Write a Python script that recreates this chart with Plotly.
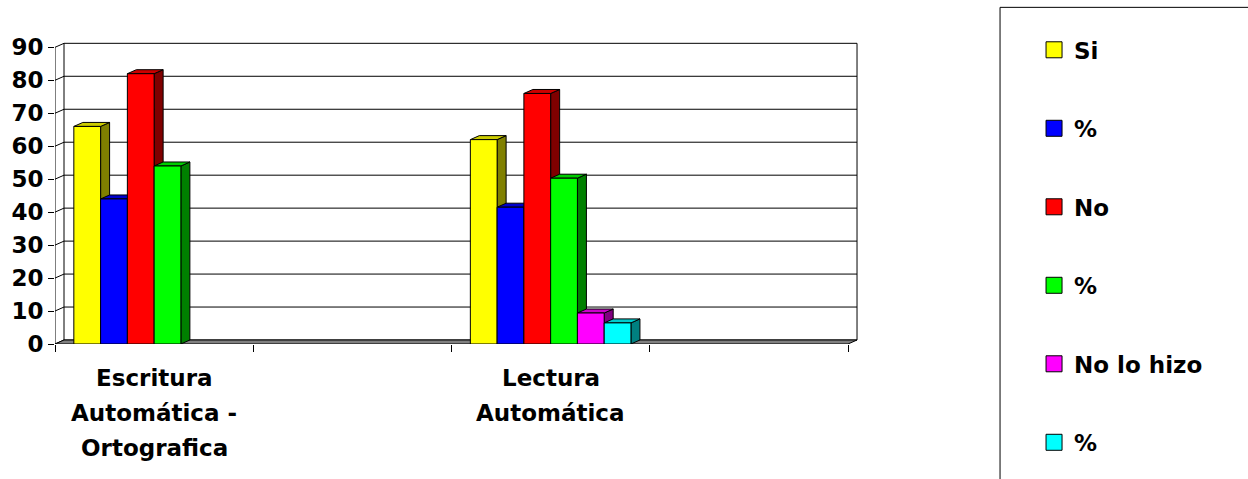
import plotly.graph_objects as go

# ---------------- data ----------------
categories = ["Escritura<br>Automática -<br>Ortografica", "", "Lectura<br>Automática", ""]
series_names = ["Si", "%", "No", "%", "No lo hizo", "%"]
si = [66, None, 62, None]
si_pct = [44, None, 41.5, None]
no = [82, None, 76, None]
no_pct = [54, None, 50.3, None]
no_lo_hizo = [0, None, 9.4, None]
no_lo_hizo_pct = [0, None, 6.4, None]
y_ticks = [0, 10, 20, 30, 40, 50, 60, 70, 80, 90]

series_values = [si, si_pct, no, no_pct, no_lo_hizo, no_lo_hizo_pct]
front_colors = ["#FFFF00", "#0000FF", "#FF0000", "#00FF00", "#FF00FF", "#00FFFF"]
side_colors = ["#808000", "#000080", "#800000", "#008000", "#800080", "#008080"]
top_colors = ["#CCCC00", "#0000CC", "#CC0000", "#00CC00", "#CC00CC", "#00CCCC"]

# ---------------- geometry ----------------
W, H = 1248, 479
plot_left, plot_bottom = 55, 344
px_per_cat, px_per_unit = 198.25, 3.3
depth_x_px, depth_y_px = 9, 4
dx = depth_x_px / px_per_cat
dy = depth_y_px / px_per_unit
x_range = [-0.5, 3.5 + dx + 0.02]
y_range = [0, 90 + dy + 0.4]
pw = (x_range[1] - x_range[0]) * px_per_cat
ph = (y_range[1] - y_range[0]) * px_per_unit
ml = plot_left
mb = H - plot_bottom
mr = W - ml - pw
mt = H - mb - ph

group_w = 0.81
n = len(series_values)
bw = group_w / n
xs = list(range(len(categories)))
FONT = "DejaVu Sans"

fig = go.Figure()
shapes = []
annotations = []

# back wall + gridlines
x_left, x_right = -0.5, 3.5
for v in y_ticks:
    shapes.append(dict(type="line", xref="x", yref="y", layer="below",
                       x0=x_left + dx, x1=x_right + dx, y0=v + dy, y1=v + dy,
                       line=dict(color="black", width=1)))
    shapes.append(dict(type="line", xref="x", yref="y", layer="below",
                       x0=x_left, x1=x_left + dx, y0=v, y1=v + dy,
                       line=dict(color="black", width=1)))
for xe in (x_left + dx, x_right + dx):
    shapes.append(dict(type="line", xref="x", yref="y", layer="below",
                       x0=xe, x1=xe, y0=dy, y1=90 + dy,
                       line=dict(color="black", width=1)))
# floor
shapes.append(dict(type="path", xref="x", yref="y", layer="below",
                   path=f"M{x_left},0 L{x_left+dx},{dy} L{x_right+dx},{dy} L{x_right},0 Z",
                   fillcolor="#808080", line=dict(color="black", width=1)))
# front y axis line
shapes.append(dict(type="line", xref="x", yref="y", layer="below",
                   x0=x_left, x1=x_left, y0=0, y1=90, line=dict(color="black", width=1)))

# bars + 3D faces
for i, (name, vals) in enumerate(zip(series_names, series_values)):
    off = -group_w / 2 + i * bw
    lw = [1 if (v is not None and v > 0) else 0 for v in vals]
    fig.add_trace(go.Bar(x=xs, y=vals, width=bw, offset=off, name=name,
                         marker=dict(color=front_colors[i], line=dict(color="black", width=lw)),
                         showlegend=False, hoverinfo="skip"))
    for j, v in enumerate(vals):
        if v is None or v <= 0:
            continue
        x0 = j + off
        x1 = x0 + bw
        shapes.append(dict(type="path", xref="x", yref="y", layer="below",
                           path=f"M{x1},0 L{x1+dx},{dy} L{x1+dx},{v+dy} L{x1},{v} Z",
                           fillcolor=side_colors[i], line=dict(color="black", width=1)))
        shapes.append(dict(type="path", xref="x", yref="y", layer="below",
                           path=f"M{x0},{v} L{x0+dx},{v+dy} L{x1+dx},{v+dy} L{x1},{v} Z",
                           fillcolor=top_colors[i], line=dict(color="black", width=1)))
    # legend entry
    fig.add_trace(go.Scatter(x=[None], y=[None], mode="markers", name=name,
                             legendgroup=f"g{i}",
                             marker=dict(symbol="square", size=16, color=front_colors[i],
                                         line=dict(color="black", width=1))))

# category labels (one annotation per text line, Excel-like line spacing)
for j, label in enumerate(categories):
    if not label:
        continue
    for k, line in enumerate(label.split("<br>")):
        annotations.append(dict(x=j, xref="x", y=0, yref="paper", text=line,
                                showarrow=False, xanchor="center", yanchor="middle",
                                yshift=-(34 + 35 * k),
                                font=dict(family=FONT, size=23, color="black", weight="bold")))

# legend frame
shapes.append(dict(type="rect", xref="paper", yref="paper", layer="above",
                   x0=(1000 - ml) / pw, x1=(1262 - ml) / pw,
                   y0=(plot_bottom - 495) / ph, y1=(plot_bottom - 7) / ph,
                   line=dict(color="black", width=1), fillcolor="rgba(0,0,0,0)"))

fig.update_layout(
    width=W, height=H,
    margin=dict(l=ml, r=mr, t=mt, b=mb, pad=0, autoexpand=False),
    paper_bgcolor="white", plot_bgcolor="white",
    barmode="overlay",
    shapes=shapes,
    annotations=annotations,
    font=dict(family=FONT, size=23, color="black", weight="bold"),
    showlegend=True,
    legend=dict(x=(1034 - ml) / pw, y=(plot_bottom - 28) / ph, xanchor="left", yanchor="top",
                bgcolor="rgba(0,0,0,0)", borderwidth=0, tracegroupgap=45.6,
                maxheight=479,
                font=dict(family=FONT, size=23, color="black", weight="bold")),
    xaxis=dict(range=x_range, showgrid=False, zeroline=False, showline=False,
               tickmode="array", tickvals=xs, ticktext=["" for _ in categories], ticks="",
               minor=dict(tickmode="array", tickvals=[-0.5, 0.5, 1.5, 2.5, 3.5],
                          ticks="outside", ticklen=7, tickcolor="black", tickwidth=1,
                          showgrid=False)),
    yaxis=dict(range=y_range, showgrid=False, zeroline=False, showline=False,
               tickmode="array", tickvals=y_ticks, ticks="outside", ticklen=6,
               tickcolor="black", ticklabelstandoff=0,
               tickfont=dict(family=FONT, size=23, color="black", weight="bold")),
)

fig.write_html("out.html", config={"displayModeBar": False},
               post_script="document.body.style.margin='0px';document.body.style.overflow='hidden';")
